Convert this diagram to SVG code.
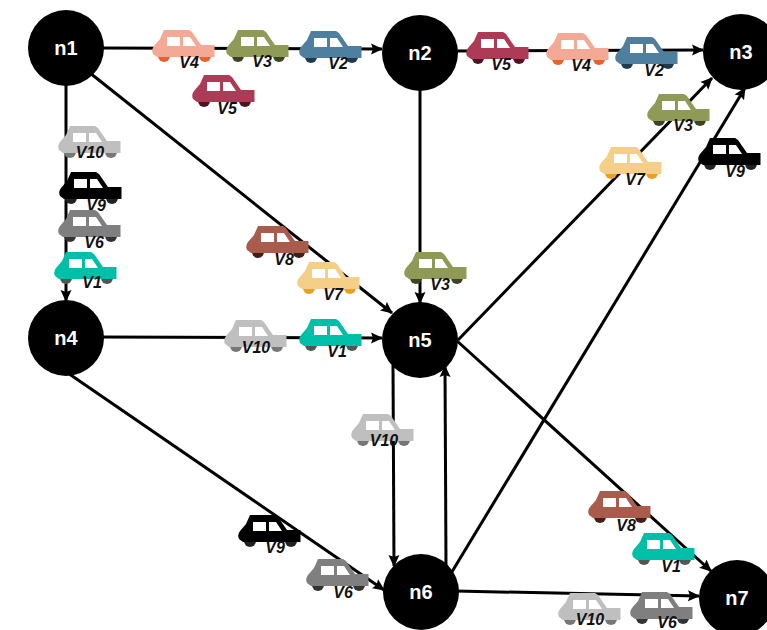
<svg xmlns="http://www.w3.org/2000/svg" width="767" height="630" viewBox="0 0 767 630">
<style>
.n{fill:#000}
.n text{fill:#fff;font:bold 20px "Liberation Sans",Arial,sans-serif;text-anchor:middle}
.e{stroke:#000;stroke-width:3;fill:none;marker-end:url(#a)}
.l{fill:#111;font:italic bold 16px "Liberation Sans",Arial,sans-serif;text-anchor:middle}
</style>
<defs>
<marker id="a" markerUnits="userSpaceOnUse" markerWidth="13" markerHeight="12" refX="11" refY="6" orient="auto"><path d="M0 0.500L12 6L0 11.500L2 6Z" fill="#000"/></marker>
<g id="car">
<circle cx="12" cy="26" r="6" fill="currentColor"/><circle cx="53" cy="26" r="6" fill="currentColor"/>
<path d="M12 0H37L40 2L49 15H62.500V27H5L1 24Q-1 20 2 16L8 9Z"/>
<path fill="#fff" d="M15 7H28V16H15ZM31 7H38L44 16H31Z"/>
</g>
</defs>
<g id="connectors">
<path class="e" d="M100 48L382 49"/>
<path class="e" d="M455 51L703 50"/>
<path class="e" d="M66 80V301"/>
<path class="e" d="M90 73L392 313"/>
<path class="e" d="M420 88V303"/>
<path class="e" d="M100 337L382 338"/>
<path class="e" d="M62 369L384 590"/>
<path class="e" d="M393 365L394 566"/>
<path class="e" d="M446 566L445 366"/>
<path class="e" d="M458 340L712 78"/>
<path class="e" d="M450 575L745 88"/>
<path class="e" d="M456 340L711 571"/>
<path class="e" d="M455 591L699 596"/>
</g>
<g id="n1" class="n"><circle cx="66" cy="48" r="38"/><text x="66" y="55">n1</text></g>
<g id="n2" class="n"><circle cx="420" cy="53" r="38"/><text x="420" y="60">n2</text></g>
<g id="n3" class="n"><circle cx="741" cy="52" r="38"/><text x="741" y="59">n3</text></g>
<g id="n4" class="n"><circle cx="66" cy="338" r="38"/><text x="66" y="345">n4</text></g>
<g id="n5" class="n"><circle cx="420" cy="340" r="38"/><text x="420" y="347">n5</text></g>
<g id="n6" class="n"><circle cx="421" cy="592" r="38"/><text x="421" y="599">n6</text></g>
<g id="n7" class="n"><circle cx="737" cy="598" r="38"/><text x="737" y="605">n7</text></g>
<g id="vehicles">
<use href="#car" x="152" y="30" fill="#f4a896" color="#e8622c"/><text class="l" x="189" y="68">V4</text>
<use href="#car" x="226" y="30" fill="#8f9a56" color="#3d4424"/><text class="l" x="262" y="67">V3</text>
<use href="#car" x="299" y="31" fill="#4f7f9f" color="#1e3a4c"/><text class="l" x="338" y="69">V2</text>
<use href="#car" x="192" y="75" fill="#ad3a56" color="#4c1522"/><text class="l" x="227" y="114">V5</text>
<use href="#car" x="466" y="32" fill="#ad3a56" color="#4c1522"/><text class="l" x="501" y="70">V5</text>
<use href="#car" x="546" y="33" fill="#f4a896" color="#e8622c"/><text class="l" x="581" y="71">V4</text>
<use href="#car" x="615" y="37" fill="#4f7f9f" color="#1e3a4c"/><text class="l" x="654" y="76">V2</text>
<use href="#car" x="647" y="94" fill="#8f9a56" color="#3d4424"/><text class="l" x="683" y="131">V3</text>
<use href="#car" x="599" y="147" fill="#f5cf87" color="#e8a020"/><text class="l" x="635" y="185">V7</text>
<use href="#car" x="698" y="138" fill="#000" color="#222"/><text class="l" x="735" y="177">V9</text>
<use href="#car" x="58" y="126" fill="#bfbfbf" color="#777"/><text class="l" x="90" y="158">V10</text>
<use href="#car" x="59" y="172" fill="#000" color="#222"/><text class="l" x="96" y="211">V9</text>
<use href="#car" x="58" y="210" fill="#7f7f7f" color="#333"/><text class="l" x="94" y="248">V6</text>
<use href="#car" x="54" y="252" fill="#00bfa8" color="#555"/><text class="l" x="92" y="288">V1</text>
<use href="#car" x="246" y="226" fill="#a95c4c" color="#3f1f18"/><text class="l" x="284" y="265">V8</text>
<use href="#car" x="297" y="262" fill="#f5cf87" color="#e8a020"/><text class="l" x="333" y="300">V7</text>
<use href="#car" x="404" y="252" fill="#8f9a56" color="#3d4424"/><text class="l" x="440" y="290">V3</text>
<use href="#car" x="224" y="320" fill="#bfbfbf" color="#777"/><text class="l" x="256" y="353">V10</text>
<use href="#car" x="299" y="319" fill="#00bfa8" color="#555"/><text class="l" x="337" y="357">V1</text>
<use href="#car" x="351" y="414" fill="#bfbfbf" color="#777"/><text class="l" x="384" y="446">V10</text>
<use href="#car" x="238" y="515" fill="#000" color="#222"/><text class="l" x="275" y="553">V9</text>
<use href="#car" x="306" y="559" fill="#7f7f7f" color="#333"/><text class="l" x="343" y="598">V6</text>
<use href="#car" x="588" y="491" fill="#a95c4c" color="#3f1f18"/><text class="l" x="626" y="531">V8</text>
<use href="#car" x="632" y="533" fill="#00bfa8" color="#555"/><text class="l" x="671" y="572">V1</text>
<use href="#car" x="558" y="593" fill="#bfbfbf" color="#777"/><text class="l" x="590" y="625">V10</text>
<use href="#car" x="630" y="592" fill="#7f7f7f" color="#333"/><text class="l" x="667" y="628">V6</text>
</g>
</svg>
